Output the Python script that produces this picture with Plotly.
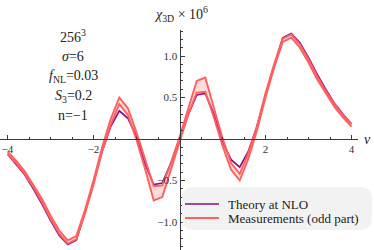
import plotly.graph_objects as go

# ---------------- data ----------------
nu = [-4.0, -3.8, -3.6, -3.4, -3.2, -3.0, -2.8, -2.6, -2.4, -2.2, -2.0,
      -1.8, -1.6, -1.4, -1.2, -1.0, -0.8, -0.6, -0.4, -0.2, 0.0,
      0.2, 0.4, 0.6, 0.8, 1.0, 1.2, 1.4, 1.6, 1.8, 2.0,
      2.2, 2.4, 2.6, 2.8, 3.0, 3.2, 3.4, 3.6, 3.8, 4.0]

theory = [-0.18, -0.30, -0.43, -0.60, -0.78, -0.98, -1.16, -1.27, -1.22, -0.89, -0.53,
          -0.15, 0.15, 0.34, 0.25, 0.03, -0.30, -0.55, -0.53, -0.29, 0.00,
          0.29, 0.53, 0.55, 0.30, -0.03, -0.25, -0.34, -0.15, 0.15, 0.53,
          0.89, 1.22, 1.27, 1.16, 0.98, 0.78, 0.60, 0.43, 0.30, 0.18]

meas_upper = [-0.15, -0.26, -0.39, -0.55, -0.72, -0.92, -1.10, -1.22, -1.17, -0.86, -0.50,
              -0.10, 0.24, 0.50, 0.37, 0.08, -0.26, -0.57, -0.56, -0.29, 0.02,
              0.36, 0.70, 0.74, 0.36, 0.01, -0.29, -0.42, -0.17, 0.15, 0.55,
              0.90, 1.21, 1.26, 1.14, 0.96, 0.76, 0.58, 0.42, 0.29, 0.18]

meas_lower = [-0.18, -0.29, -0.42, -0.58, -0.76, -0.96, -1.14, -1.26, -1.21, -0.90, -0.55,
              -0.15, 0.17, 0.42, 0.29, -0.01, -0.36, -0.74, -0.70, -0.36, -0.02,
              0.29, 0.56, 0.57, 0.26, -0.08, -0.37, -0.50, -0.24, 0.10, 0.50,
              0.86, 1.17, 1.22, 1.10, 0.92, 0.72, 0.55, 0.39, 0.26, 0.15]

x_tickvals = [-4, -2, 2, 4]
x_ticktext = ["\u22124", "\u22122", "2", "4"]
y_tickvals = [-1.0, -0.5, 0.5, 1.0]
y_ticktext = ["\u22121.0", "\u22120.5", "0.5", "1.0"]

params = ["256<sup>3</sup>", "<i>\u03c3</i>=6", "<i>f</i><sub>NL</sub>=0.03",
          "<i>S</i><sub>3</sub>=0.2", "n=\u22121"]
legend_names = ["Theory at NLO", "Measurements (odd part)"]

# ---------------- styling ----------------
W, H = 374, 250
ML, MR, MT, MB = 0, 16, 30, 0
PW, PH = W - ML - MR, H - MT - MB
PURPLE = "#850f8a"
RED = "#ff5f5f"
FILL = "rgba(255,95,95,0.22)"
SERIF = "Liberation Serif"
AX = "#3a3a3a"


def px(x):
    return (x - ML) / PW


def py(y):
    return (H - MB - y) / PH


fig = go.Figure()
fig.add_trace(go.Scatter(x=nu, y=theory, mode="lines",
                         line=dict(color=PURPLE, width=1.7),
                         name=legend_names[0], showlegend=False))
fig.add_trace(go.Scatter(x=nu, y=meas_upper, mode="lines",
                         line=dict(color=RED, width=1.9),
                         name=legend_names[1], showlegend=False))
fig.add_trace(go.Scatter(x=nu, y=meas_lower, mode="lines",
                         line=dict(color=RED, width=1.9),
                         fill="tonexty", fillcolor=FILL,
                         name=legend_names[1], showlegend=False))

x0_px, y0_px = 179.5, 139.0
xspan = PW / 43.0
xmin = -(x0_px - ML) / 43.0
yspan = PH / 83.0
ymax = (y0_px - MT) / 83.0

fig.update_layout(
    width=W, height=H,
    margin=dict(l=ML, r=MR, t=MT, b=MB, pad=0, autoexpand=False),
    paper_bgcolor="white", plot_bgcolor="white",
    showlegend=False,
    xaxis=dict(range=[xmin, xmin + xspan], showgrid=False, zeroline=False,
               automargin=False,
               showline=True, linecolor=AX, linewidth=1,
               anchor="free", position=py(y0_px),
               tickmode="array", tickvals=x_tickvals, ticktext=x_ticktext,
               ticks="inside", ticklen=4, tickcolor=AX, tickwidth=1,
               minor=dict(tickmode="linear", tick0=0, dtick=0.5, ticks="inside",
                          ticklen=2.5, tickcolor=AX, tickwidth=1),
               tickfont=dict(family=SERIF, size=11, color="#333")),
    yaxis=dict(range=[ymax - yspan, ymax], showgrid=False, zeroline=False,
               automargin=False,
               showline=True, linecolor=AX, linewidth=1,
               anchor="free", position=px(x0_px),
               tickmode="array", tickvals=y_tickvals, ticktext=y_ticktext,
               ticks="inside", ticklen=4, tickcolor=AX, tickwidth=1,
               minor=dict(tickmode="linear", tick0=0, dtick=0.1, ticks="inside",
                          ticklen=2.5, tickcolor=AX, tickwidth=1),
               tickfont=dict(family=SERIF, size=11, color="#333")),
)

ann = []
# axis labels
ann.append(dict(x=px(181), y=py(14), xref="paper", yref="paper",
                text="<i>\u03c7</i><sub>3D</sub> \u00d7 10<sup>6</sup>",
                showarrow=False, xanchor="center", yanchor="middle",
                font=dict(family=SERIF, size=14, color="#222")))
ann.append(dict(x=px(367), y=py(139), xref="paper", yref="paper",
                text="<i>\u03bd</i>", showarrow=False,
                xanchor="center", yanchor="middle",
                font=dict(family=SERIF, size=14, color="#222")))
# parameter text block
for i, t in enumerate(params):
    ann.append(dict(x=px(73), y=py(36 + 20 * i), xref="paper", yref="paper",
                    text=t, showarrow=False, xanchor="center", yanchor="middle",
                    font=dict(family=SERIF, size=14, color="#222")))

# legend (manual, rounded box)
bx0, bx1, by0, by1, r = 182, 372, 187, 230, 12
path = (f"M {px(bx0 + r)},{py(by0)} L {px(bx1 - r)},{py(by0)} "
        f"Q {px(bx1)},{py(by0)} {px(bx1)},{py(by0 + r)} "
        f"L {px(bx1)},{py(by1 - r)} Q {px(bx1)},{py(by1)} {px(bx1 - r)},{py(by1)} "
        f"L {px(bx0 + r)},{py(by1)} Q {px(bx0)},{py(by1)} {px(bx0)},{py(by1 - r)} "
        f"L {px(bx0)},{py(by0 + r)} Q {px(bx0)},{py(by0)} {px(bx0 + r)},{py(by0)} Z")
shapes = [dict(type="path", path=path, xref="paper", yref="paper",
               fillcolor="#f2f2f2", line=dict(width=0), layer="above")]
for i, (col, w) in enumerate([(PURPLE, 1.7), (RED, 1.9)]):
    yy = 204 + 14 * i
    shapes.append(dict(type="line", xref="paper", yref="paper",
                       x0=px(185), x1=px(219), y0=py(yy), y1=py(yy),
                       line=dict(color=col, width=w), layer="above"))
    ann.append(dict(x=px(226), y=py(yy), xref="paper", yref="paper",
                    text=legend_names[i], showarrow=False,
                    xanchor="left", yanchor="middle",
                    font=dict(family=SERIF, size=13, color="#222")))

fig.update_layout(annotations=ann, shapes=shapes)
fig.write_html("out.html",
               config={"displayModeBar": False, "staticPlot": True},
               post_script="document.body.style.margin='0';"
                           "document.body.style.overflow='hidden';")
